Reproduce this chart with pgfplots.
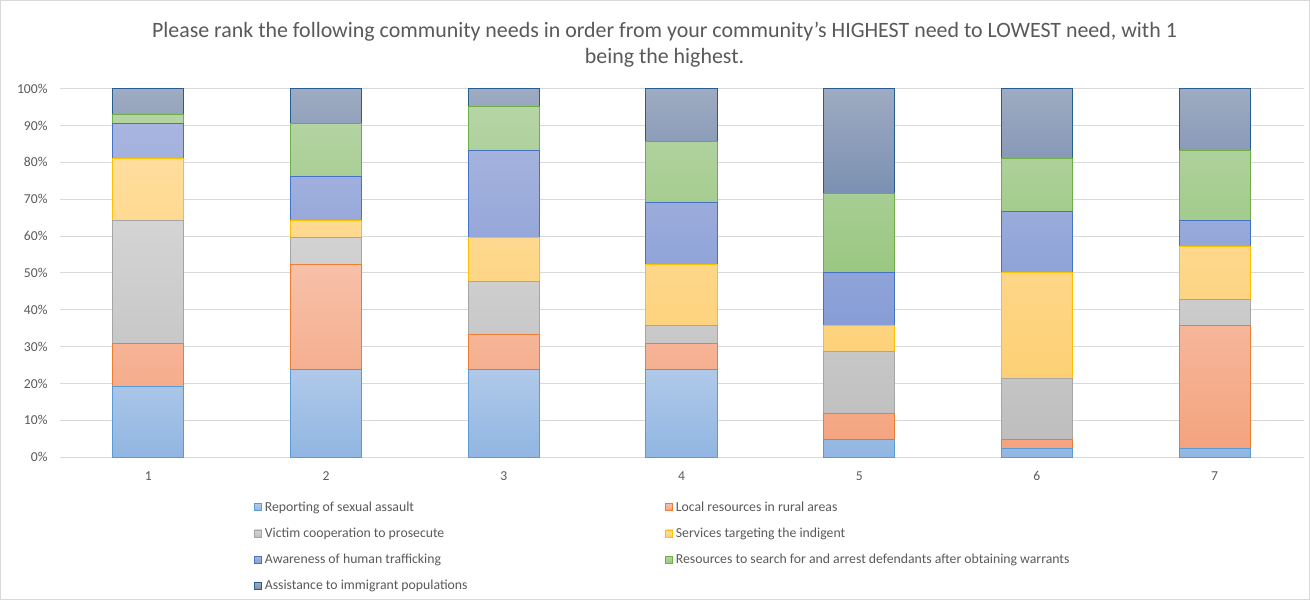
\documentclass[border=0pt]{standalone}
\usepackage{pgfplots}
\usepackage{pgfplotstable}
\pgfplotsset{compat=1.18}
\usepackage{fontspec}
\setmainfont{Carlito}
\definecolor{txt}{RGB}{89,89,89}
\definecolor{gridc}{RGB}{217,217,217}
\definecolor{bA}{RGB}{91,155,213}\definecolor{tA}{RGB}{176,201,233}\definecolor{uA}{RGB}{145,182,226}
\definecolor{bB}{RGB}{237,125,49}\definecolor{tB}{RGB}{247,192,168}\definecolor{uB}{RGB}{244,163,126}
\definecolor{bC}{RGB}{165,165,165}\definecolor{tC}{RGB}{212,212,212}\definecolor{uC}{RGB}{190,190,190}
\definecolor{bD}{RGB}{255,192,0}\definecolor{tD}{RGB}{255,221,156}\definecolor{uD}{RGB}{253,208,117}
\definecolor{bE}{RGB}{68,114,196}\definecolor{tE}{RGB}{169,181,223}\definecolor{uE}{RGB}{134,157,213}
\definecolor{bF}{RGB}{112,173,71}\definecolor{tF}{RGB}{182,213,166}\definecolor{uF}{RGB}{154,199,129}
\definecolor{bG}{RGB}{38,94,145}\definecolor{tG}{RGB}{158,171,193}\definecolor{uG}{RGB}{123,144,178}
\pgfplotstableread{
x rep loc vic ser awa res ass
1 19.05 11.90 33.33 16.67 9.52 2.38 7.14
2 23.81 28.57 7.14 4.76 11.90 14.29 9.52
3 23.81 9.52 14.29 11.90 23.81 11.90 4.76
4 23.81 7.14 4.76 16.67 16.67 16.67 14.29
5 4.76 7.14 16.67 7.14 14.29 21.43 28.57
6 2.38 2.38 16.67 28.57 16.67 14.29 19.05
7 2.38 33.33 7.14 14.29 7.14 19.05 16.67
}\data
\pgfplotsset{
  mybar/.style n args={3}{draw=#1, top color=#2, bottom color=#3, line width=0.75pt,
    legend image code/.code={\draw[draw=#1, fill=#3, line width=0.6pt] (0pt,-2.7pt) rectangle (5.4pt,2.7pt);}},
}
\begin{document}
\begin{tikzpicture}[x=0.75pt,y=0.75pt]
\draw[gridc, line width=0.75pt] (1,1) rectangle (1308,599);
\node[align=center, text=txt, font=\fontsize{16.4}{19.5}\selectfont] at (664,555) {Please rank the following community needs in order from your community's HIGHEST need to LOWEST need, with 1\\being the highest.};
\begin{axis}[
  at={(45pt,107.25pt)}, anchor=south west,
  scale only axis, width=931.5pt, height=276pt,
  xmin=0.5, xmax=7.5, ymin=0, ymax=100,
  ybar stacked, bar width=53.25pt,
  xtick={1,...,7}, ytick={0,10,...,100},
  yticklabel={\pgfmathprintnumber{\tick}\%},
  ymajorgrids, grid style={gridc, line width=0.75pt},
  axis line style={draw=none}, major tick length=0pt,
  tick label style={font=\fontsize{10.2}{12}\selectfont, text=txt},
  /pgf/number format/assume math mode=true,
  xticklabel style={yshift=-7pt},
  yticklabel style={xshift=-5.5pt},
  clip=false,
  legend columns=2,
  legend cell align=left,
  legend style={at={(0.153,-0.105)}, anchor=north west, draw=none, fill=none,
    font=\fontsize{10.3}{12}\selectfont, text=txt, row sep=7pt,
    /tikz/every odd column/.style={inner xsep=1pt},
    /tikz/column 2/.style={column sep=146pt}},
]
\addplot[mybar={bA}{tA}{uA}] table[x=x,y=rep]{\data};
\addlegendentry{Reporting of sexual assault}
\addplot[mybar={bB}{tB}{uB}] table[x=x,y=loc]{\data};
\addlegendentry{Local resources in rural areas}
\addplot[mybar={bC}{tC}{uC}] table[x=x,y=vic]{\data};
\addlegendentry{Victim cooperation to prosecute}
\addplot[mybar={bD}{tD}{uD}] table[x=x,y=ser]{\data};
\addlegendentry{Services targeting the indigent}
\addplot[mybar={bE}{tE}{uE}] table[x=x,y=awa]{\data};
\addlegendentry{Awareness of human trafficking}
\addplot[mybar={bF}{tF}{uF}] table[x=x,y=res]{\data};
\addlegendentry{Resources to search for and arrest defendants after obtaining warrants}
\addplot[mybar={bG}{tG}{uG}] table[x=x,y=ass]{\data};
\addlegendentry{Assistance to immigrant populations}
\end{axis}
\end{tikzpicture}
\end{document}
